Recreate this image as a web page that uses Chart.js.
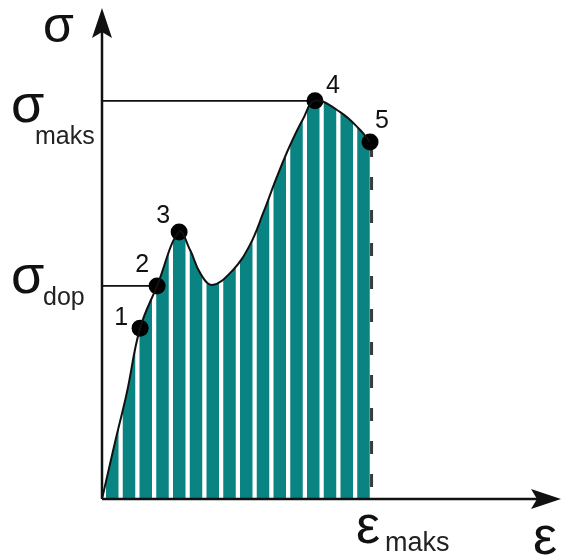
<!DOCTYPE html>
<html>
<head>
<meta charset="utf-8">
<title>Wykres rozciągania σ–ε</title>
<script src="https://cdn.jsdelivr.net/npm/chart.js@4.4.1/dist/chart.umd.min.js"></script>
<style>
  html, body { margin: 0; padding: 0; background: #fff; }
  #wrap { width: 563px; height: 557px; }
</style>
</head>
<body>
<div id="wrap"><canvas id="wykres" width="563" height="557"></canvas></div>
<script>
// krzywa rozciągania w jednostkach umownych (0..10 na każdej osi)
const odksztalcenie = [0, 0.28, 0.54, 0.83, 1.20, 1.68, 1.92, 2.14, 2.40, 2.85, 3.22, 3.51, 3.81, 4.10, 4.38, 4.64, 5.19, 5.62, 5.84];
const naprezenie = [0, 1.14, 2.16, 3.48, 4.34, 5.44, 5.07, 4.60, 4.36, 4.66, 5.17, 5.82, 6.56, 7.21, 7.74, 8.11, 7.88, 7.52, 7.27];

// punkty charakterystyczne 1..5 (indeksy w tablicach powyżej)
const punktyIdx = [3, 4, 5, 15, 18];
const punktyNazwy = ["1", "2", "3", "4", "5"];

const zakresX = [0, 10];
const zakresY = [0, 10];

const sigmaDop = naprezenie[punktyIdx[1]];
const sigmaMaks = naprezenie[punktyIdx[3]];
const epsMaks = odksztalcenie[punktyIdx[4]];

const TEAL = "#0a8383";
const FONT = "'Liberation Sans', Arial, sans-serif";

// przesunięcia numerów punktów względem znaczników (px)
const przesuniecia = [[-19, -3], [-15, -14], [-16, -9], [18, -8], [12, -14]];

const krzywa = odksztalcenie.map((e, i) => ({ x: e, y: naprezenie[i] }));
const punkty = punktyIdx.map((i) => ({ x: odksztalcenie[i], y: naprezenie[i] }));

function strzalka(ctx, x, y, dx, dy) {
  // grot z wcięciem, (dx, dy) – kierunek
  const dl = 30, sz = 10, wc = 6;
  const px = -dy, py = dx;
  ctx.beginPath();
  ctx.moveTo(x, y);
  ctx.lineTo(x - dx * dl + px * sz, y - dy * dl + py * sz);
  ctx.lineTo(x - dx * (dl - wc), y - dy * (dl - wc));
  ctx.lineTo(x - dx * dl - px * sz, y - dy * dl - py * sz);
  ctx.closePath();
  ctx.fill();
}

const rysunek = {
  id: "rysunek",
  beforeDatasetsDraw(chart) {
    const { ctx, chartArea, scales: { x, y } } = chart;
    const x0 = x.getPixelForValue(0);
    const y0 = y.getPixelForValue(0);
    const xk = x.getPixelForValue(epsMaks);

    // pole pod krzywą – pionowe pasy
    const linia = chart.getDatasetMeta(0).dataset;
    linia.updateControlPoints(chartArea, "x");
    ctx.save();
    ctx.beginPath();
    linia.path(ctx);
    ctx.lineTo(xk, y0);
    ctx.lineTo(x0, y0);
    ctx.closePath();
    ctx.clip();
    ctx.fillStyle = TEAL;
    for (let px = x0 + 4; px < xk; px += 16.75) {
      ctx.fillRect(px, chartArea.top, 12.5, y0 - chartArea.top);
    }
    ctx.restore();

    // linie pomocnicze
    ctx.save();
    ctx.strokeStyle = "#111";
    ctx.lineWidth = 1.8;
    ctx.beginPath();
    ctx.moveTo(x0, y.getPixelForValue(sigmaMaks));
    ctx.lineTo(x.getPixelForValue(odksztalcenie[punktyIdx[3]]), y.getPixelForValue(sigmaMaks));
    ctx.moveTo(x0, y.getPixelForValue(sigmaDop));
    ctx.lineTo(x.getPixelForValue(odksztalcenie[punktyIdx[1]]), y.getPixelForValue(sigmaDop));
    ctx.stroke();

    ctx.strokeStyle = "#3a3a3a";
    ctx.lineWidth = 3;
    ctx.setLineDash([13, 20]);
    ctx.lineDashOffset = 31;
    ctx.beginPath();
    ctx.moveTo(xk + 1.5, y.getPixelForValue(naprezenie[punktyIdx[4]]));
    ctx.lineTo(xk + 1.5, y0);
    ctx.stroke();
    ctx.restore();
  },
  afterDraw(chart) {
    const { ctx, chartArea, scales: { x, y } } = chart;
    const x0 = x.getPixelForValue(0);
    const y0 = y.getPixelForValue(0);

    // osie ze strzałkami
    ctx.save();
    ctx.strokeStyle = "#111";
    ctx.fillStyle = "#111";
    ctx.lineWidth = 2.5;
    ctx.beginPath();
    ctx.moveTo(x0, y0);
    ctx.lineTo(x0, chartArea.top + 20);
    ctx.moveTo(x0, y0);
    ctx.lineTo(chartArea.right - 20, y0);
    ctx.stroke();
    strzalka(ctx, x0, chartArea.top, 0, -1);
    strzalka(ctx, chartArea.right, y0, 1, 0);

    // opisy osi
    ctx.textAlign = "left";
    ctx.textBaseline = "alphabetic";
    const ys = y.getPixelForValue(sigmaMaks);
    const yd = y.getPixelForValue(sigmaDop);
    const xe = x.getPixelForValue(epsMaks);

    ctx.font = "50px " + FONT;
    ctx.fillText("σ", x0 - 59, chartArea.top + 34);
    ctx.font = "54px " + FONT;
    ctx.fillText("σ", 11, ys + 21);
    ctx.fillText("σ", 11, yd + 7);
    ctx.fillText("ε", xe - 14, y0 + 44);
    ctx.fillText("ε", chartArea.right - 28, y0 + 55);

    ctx.fillStyle = "#222";
    ctx.font = "25px " + FONT;
    ctx.fillText("maks", 35, ys + 43);
    ctx.fillText("dop", 43, yd + 19);
    ctx.font = "27px " + FONT;
    ctx.fillText("maks", xe + 15, y0 + 52);

    // numery punktów
    ctx.fillStyle = "#111";
    ctx.font = "25px " + FONT;
    ctx.textAlign = "center";
    punkty.forEach((p, i) => {
      const [dx, dy] = przesuniecia[i];
      ctx.fillText(punktyNazwy[i], x.getPixelForValue(p.x) + dx, y.getPixelForValue(p.y) + dy);
    });
    ctx.restore();
  },
};

new Chart(document.getElementById("wykres"), {
  type: "line",
  data: {
    datasets: [
      {
        data: krzywa,
        borderColor: "#111",
        borderWidth: 2,
        pointRadius: 0,
        fill: false,
        tension: 0.4,
      },
      {
        data: punkty,
        showLine: false,
        pointRadius: 8.5,
        pointBackgroundColor: "#000",
        pointBorderWidth: 0,
      },
    ],
  },
  options: {
    responsive: false,
    animation: false,
    devicePixelRatio: 1,
    events: [],
    layout: { autoPadding: false, padding: { left: 102, top: 8, right: 2, bottom: 58 } },
    scales: {
      x: { type: "linear", min: zakresX[0], max: zakresX[1], display: false },
      y: { type: "linear", min: zakresY[0], max: zakresY[1], display: false },
    },
    plugins: { legend: { display: false }, tooltip: { enabled: false } },
  },
  plugins: [rysunek],
});
</script>
</body>
</html>
